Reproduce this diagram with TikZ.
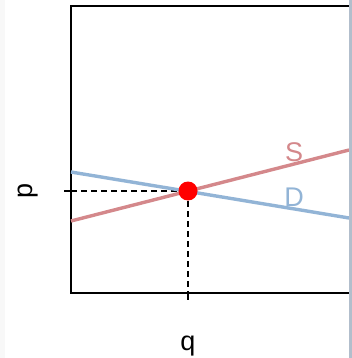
\documentclass[tikz,border=0pt]{standalone}
\usepackage{fontspec}
\setmainfont{Liberation Sans}
\definecolor{scol}{RGB}{212,136,139}
\definecolor{dcol}{RGB}{146,180,214}
\definecolor{edgecol}{RGB}{178,190,204}
\definecolor{leftcol}{RGB}{248,248,248}
\tikzset{
  curve/.style={line width=3.4pt},
  guide/.style={dashed, dash pattern=on 6pt off 4pt, line width=1.3pt},
  frame/.style={line width=1.7pt},
  lbl/.style={font=\fontsize{27}{31}\selectfont, inner sep=0pt},
}
\begin{document}
\begin{tikzpicture}[x=1pt,y=-1pt]
\useasboundingbox (0,0) rectangle (352,358);
\fill[white] (0,0) rectangle (352,358);
\fill[leftcol] (0,0) rectangle (5,358);
% frame
\coordinate (tl) at (71,6);
\coordinate (bl) at (71,293);
\coordinate (tr) at (349,6);
\coordinate (br) at (349,293);
\draw[frame] (tr) -- (tl) -- (bl) -- (br);
% ticks
\coordinate (pt0) at (64,191);
\coordinate (pt1) at (71,191);
\coordinate (qt0) at (188,293);
\coordinate (qt1) at (188,300);
\draw[frame] (pt0) -- (pt1);
\draw[frame] (qt0) -- (qt1);
% equilibrium
\coordinate (eq) at (188,191);
\draw[guide] (pt1) -- (eq);
\draw[guide] (eq) -- (qt0);
% curves
\coordinate (s0) at (71,221);
\coordinate (s1) at (349,150);
\coordinate (d0) at (71,172);
\coordinate (d1) at (349,218);
\draw[curve, scol] (s0) -- (s1);
\draw[curve, dcol] (d0) -- (d1);
\fill[red] (eq) circle (9.5);
% labels
\node[lbl, text=scol] (S) at (294,152) {S};
\node[lbl, text=dcol] (D) at (294,197) {D};
\node[lbl, rotate=90] (p) at (28,191) {p};
\node[lbl] (q) at (188,346) {q};
% right edge strip
\fill[edgecol] (349,0) rectangle (352,358);
\end{tikzpicture}
\end{document}
